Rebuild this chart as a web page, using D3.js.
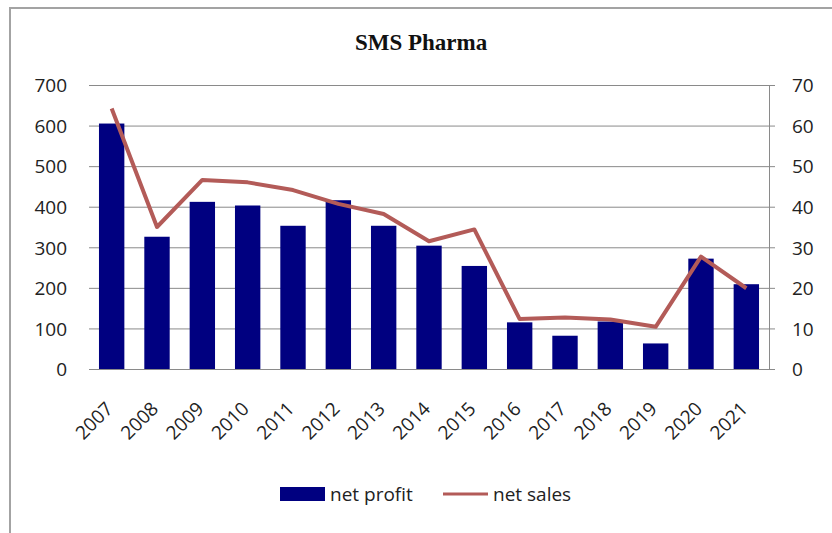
<!DOCTYPE html>
<html>
<head>
<meta charset="utf-8">
<script src="https://cdn.jsdelivr.net/npm/d3@7"></script>
<style>
  html, body { margin: 0; padding: 0; background: #ffffff; }
  svg { display: block; }
</style>
</head>
<body>
<svg id="chart" width="832" height="533"></svg>
<script>
const years = ["2007","2008","2009","2010","2011","2012","2013","2014","2015","2016","2017","2018","2019","2020","2021"];
const netProfit = [605, 326, 412, 403, 353, 416, 353, 304, 254, 115, 82, 117, 63, 272, 209];
const netSales = [64.2, 35.0, 46.6, 46.0, 44.1, 40.7, 38.2, 31.5, 34.4, 12.3, 12.7, 12.2, 10.4, 27.7, 19.9];
const leftTicks = [0, 100, 200, 300, 400, 500, 600, 700];
const rightTicks = [0, 10, 20, 30, 40, 50, 60, 70];
const chartTitle = "SMS Pharma";
const seriesNames = ["net profit", "net sales"];

const svg = d3.select("#chart");
const W = 832, H = 533;
const plot = { left: 89, right: 769, top: 85, bottom: 369 };
const font = "'Open Sans', sans-serif";
const barColor = "#000080";
const lineColor = "#B35B58";
const gridColor = "#8a8a8a";

svg.append("rect").attr("width", W).attr("height", H).attr("fill", "#fff");
// chart frame
svg.append("rect")
  .attr("x", 10).attr("y", 8).attr("width", 900).attr("height", 600)
  .attr("fill", "none").attr("stroke", "#a3a3a3").attr("stroke-width", 2);

const x = d3.scaleBand().domain(years).range([plot.left, plot.right])
  .paddingInner(0.44).paddingOuter(0.22);
const yL = d3.scaleLinear().domain([0, 700]).range([plot.bottom, plot.top]);
const yR = d3.scaleLinear().domain([0, 70]).range([plot.bottom, plot.top]);

// title
svg.append("text").attr("x", 421).attr("y", 50)
  .attr("text-anchor", "middle")
  .attr("font-family", "'Liberation Serif', 'Times New Roman', serif")
  .attr("font-weight", "bold").attr("font-size", 23)
  .attr("fill", "#111").text(chartTitle);

// gridlines via left axis
const gAxL = svg.append("g").attr("transform", `translate(${plot.left},0)`)
  .call(d3.axisLeft(yL).tickValues(leftTicks).tickSize(-(plot.right - plot.left)).tickPadding(22));
gAxL.select(".domain").remove();
gAxL.selectAll(".tick line").attr("stroke", gridColor).attr("stroke-width", 1);
gAxL.selectAll(".tick text").attr("font-family", font).attr("font-size", 19)
  .attr("fill", "#222").attr("dy", "0.36em");

// right axis
const gAxR = svg.append("g").attr("transform", `translate(${plot.right},0)`)
  .call(d3.axisRight(yR).tickValues(rightTicks).tickSize(6).tickPadding(17));
gAxR.select(".domain").attr("stroke", gridColor).attr("stroke-width", 1);
gAxR.selectAll(".tick line").attr("stroke", gridColor);
gAxR.selectAll(".tick text").attr("font-family", font).attr("font-size", 19)
  .attr("fill", "#222").attr("dy", "0.36em");

// bars
svg.append("g").selectAll("rect").data(years).join("rect")
  .attr("x", d => x(d))
  .attr("width", x.bandwidth())
  .attr("y", (d, i) => yL(netProfit[i]))
  .attr("height", (d, i) => yL(0) - yL(netProfit[i]))
  .attr("fill", barColor);

// x axis
const gAxB = svg.append("g").attr("transform", `translate(0,${plot.bottom})`)
  .call(d3.axisBottom(x).tickSize(0).tickPadding(0));
gAxB.select(".domain").attr("stroke", gridColor).attr("stroke-width", 1)
  .attr("d", `M${plot.left},0.5H${plot.right}`);
gAxB.selectAll(".tick text")
  .attr("font-family", font).attr("font-size", 19).attr("fill", "#222")
  .attr("text-anchor", "end")
  .attr("dy", null)
  .attr("y", null)
  .attr("transform", "translate(2.5,41) rotate(-45)");

// line
const line = d3.line()
  .x((d, i) => x(years[i]) + x.bandwidth() / 2)
  .y(d => yR(d));
svg.append("path").datum(netSales)
  .attr("d", line).attr("fill", "none")
  .attr("stroke", lineColor).attr("stroke-width", 4)
  .attr("stroke-linejoin", "round");

// legend
const legendY = 494;
const lg = svg.append("g");
lg.append("rect").attr("x", 280).attr("y", legendY - 7).attr("width", 45).attr("height", 14).attr("fill", barColor);
lg.append("text").attr("x", 330).attr("y", legendY).attr("dy", "0.36em")
  .attr("font-family", font).attr("font-size", 19).attr("fill", "#222").text(seriesNames[0]);
lg.append("line").attr("x1", 443).attr("x2", 488).attr("y1", legendY).attr("y2", legendY)
  .attr("stroke", lineColor).attr("stroke-width", 3);
lg.append("text").attr("x", 493).attr("y", legendY).attr("dy", "0.36em")
  .attr("font-family", font).attr("font-size", 19).attr("fill", "#222").text(seriesNames[1]);
</script>
</body>
</html>
